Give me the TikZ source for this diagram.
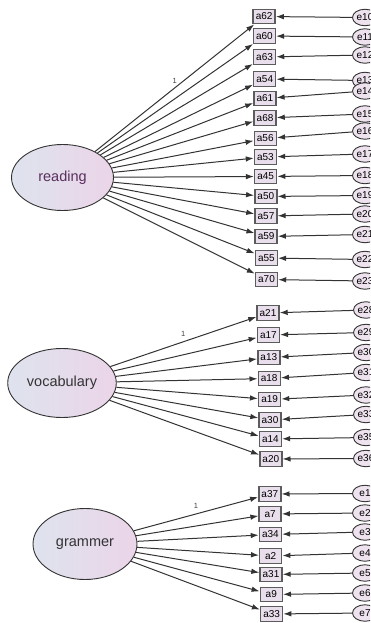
\documentclass[tikz,border=0pt]{standalone}
\usepackage{fontspec}
\setmainfont{Liberation Sans}
\usetikzlibrary{arrows.meta,shapes.geometric}
\definecolor{edge}{HTML}{333333}
\definecolor{latL}{HTML}{DEE3EE}
\definecolor{latR}{HTML}{EBD5E8}
\definecolor{boxfill}{HTML}{E9DFEC}
\definecolor{errfill}{HTML}{EDE2EE}
\definecolor{purp}{HTML}{5A2E5E}
\tikzset{
  latent/.style={ellipse,draw=edge,line width=0.9pt,left color=latL,right color=latR,
    minimum width=102pt,minimum height=66pt,font=\fontsize{14.5}{16}\selectfont,text=black!80},
  obs/.style={rectangle,draw=edge!80,line width=1.4pt,fill=boxfill,minimum width=22pt,
    minimum height=14.5pt,inner sep=0pt,font=\fontsize{10}{12}\selectfont},
  resid/.style={ellipse,draw=edge,line width=0.9pt,fill=errfill,minimum width=25pt,
    minimum height=16.5pt,inner sep=0pt,font=\fontsize{10}{12}\selectfont},
  load/.style={draw=edge,line width=1pt,-{Latex[length=8pt,width=5.5pt]}},
  fixlab/.style={font=\fontsize{7.5}{8}\selectfont,text=black!75,inner sep=1pt}
}
\begin{document}
\begin{tikzpicture}[x=1pt,y=-1pt]
  \useasboundingbox (0,0) rectangle (370,623);
  \clip (0,0) rectangle (370,623);
  % latent factors
  \node[latent,text=purp] (reading) at (62.5,177.5) {reading};
  \node[latent,minimum width=106pt,minimum height=69pt] (vocabulary) at (62,383) {vocabulary};
  \node[latent,minimum width=104pt,minimum height=71pt] (grammer) at (85,544) {grammer};
  % reading items
  \foreach \nm/\er/\by/\ey [count=\i] in {a62/e10/16.5/17.5,a60/e11/36/37,a63/e12/57/55,
      a54/e13/79/80.5,a61/e14/98.5/91,a68/e15/118/114,a56/e16/138.5/131,a53/e17/157/154,
      a45/e18/176.5/175.5,a50/e19/196.5/195.5,a57/e20/216/214,a59/e21/236.5/234.5,
      a55/e22/258/259.5,a70/e23/279.5/281}{
    \node[obs] (\nm) at (264+0.18*\i,\by) {\nm};
    \node[resid] (\er) at (365,\ey) {\er};
    \draw[load] (reading) -- (\nm);
    \draw[load] (\er) -- (\nm);
  }
  % vocabulary items
  \foreach \nm/\er/\by/\ey [count=\i] in {a21/e28/313/310,a17/e29/335/332.5,a13/e30/357.5/352.5,
      a18/e31/378.5/372.5,a19/e32/399.5/395,a30/e33/420/414.5,a14/e35/439/437.5,a20/e36/459/458.5}{
    \node[obs] (\nm) at (267.6+0.4*\i,\by) {\nm};
    \node[resid] (\er) at (366,\ey) {\er};
    \draw[load] (vocabulary) -- (\nm);
    \draw[load] (\er) -- (\nm);
  }
  % grammer items
  \foreach \nm/\er/\by/\ey [count=\i] in {a37/e1/494/493.5,a7/e2/514/513,a34/e3/534.5/532,
      a2/e4/556/553,a31/e5/574.5/573,a9/e6/594.5/593,a33/e7/614/613}{
    \node[obs] (\nm) at (269.5+0.3*\i,\by) {\nm};
    \node[resid] (\er) at (365,\ey) {\er};
    \draw[load] (grammer) -- (\nm);
    \draw[load] (\er) -- (\nm);
  }
  % fixed loadings
  \path (reading) -- (a62) node[fixlab,pos=.5,above=3pt] {1};
  \path (vocabulary) -- (a21) node[fixlab,pos=.5,above=4pt] {1};
  \path (grammer) -- (a37) node[fixlab,pos=.5,above=4pt] {1};
\end{tikzpicture}
\end{document}
